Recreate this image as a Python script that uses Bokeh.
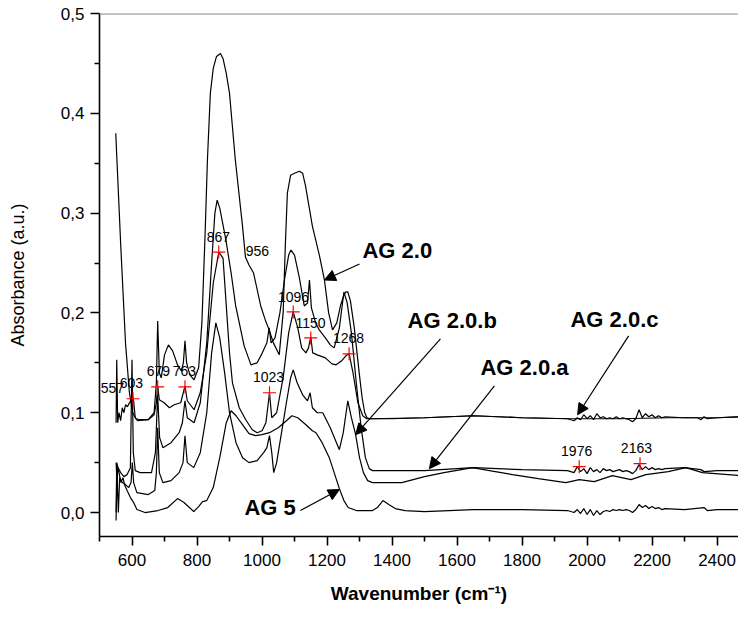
from bokeh.plotting import figure
from bokeh.models import FixedTicker, CustomJSTickFormatter, Span, Arrow, NormalHead
from bokeh.core.properties import value
from bokeh.embed import file_html
from bokeh.resources import INLINE

# ---------------- data ----------------
noise_x = [1940, 1950, 1960, 1970, 1980, 1990, 2000, 2010, 2020, 2030, 2040, 2050, 2060, 2070, 2080,
           2090, 2100, 2110, 2120, 2130, 2140, 2150, 2160, 2170, 2180, 2190, 2200, 2210, 2220, 2230, 2240]

ag20_x = [550, 565, 580, 592, 602, 612, 625, 650, 668, 675, 679, 684, 690, 700, 712, 725, 740, 752, 758,
          763, 768, 778, 791, 805, 815, 825, 832, 841, 850, 860, 872, 880, 890, 900, 918, 940, 949, 960,
          974, 996, 1010, 1022, 1035, 1053, 1065, 1072, 1078, 1088, 1100, 1115, 1125, 1134, 1155, 1177,
          1192, 1205, 1217, 1230, 1242, 1252, 1258, 1264, 1272, 1284, 1299, 1308, 1316, 1323, 1332, 1400,
          1500, 1650, 1800, 1950, 2100, 2250, 2400, 2470]
ag20_y = [0.38, 0.27, 0.17, 0.12, 0.10, 0.094, 0.093, 0.093, 0.10, 0.13, 0.192, 0.14, 0.135, 0.158, 0.168,
          0.162, 0.148, 0.142, 0.15, 0.172, 0.15, 0.138, 0.133, 0.145, 0.19, 0.28, 0.353, 0.42, 0.445,
          0.457, 0.46, 0.455, 0.44, 0.42, 0.353, 0.287, 0.256, 0.248, 0.24, 0.207, 0.193, 0.183, 0.17,
          0.158, 0.2, 0.27, 0.32, 0.338, 0.34, 0.342, 0.34, 0.327, 0.287, 0.257, 0.233, 0.2, 0.183, 0.19,
          0.208, 0.218, 0.221, 0.221, 0.212, 0.185, 0.14, 0.115, 0.1, 0.095, 0.094, 0.094, 0.095, 0.097,
          0.095, 0.094, 0.094, 0.095, 0.095, 0.096]

ag20a_x = [551, 553, 557, 565, 575, 585, 595, 600, 604, 610, 625, 660, 672, 679, 685, 695, 720, 745, 755,
           763, 770, 791, 810, 830, 845, 855, 862, 870, 889, 905, 919, 945, 966, 985, 1001, 1015, 1022,
           1028, 1040, 1055, 1070, 1082, 1089, 1100, 1115, 1130, 1140, 1146, 1152, 1165, 1176, 1195, 1210,
           1222, 1238, 1252, 1262, 1275, 1290, 1305, 1318, 1330, 1340, 1500, 1650, 1800] + noise_x + \
          [2300, 2350, 2360, 2400, 2470]
ag20a_y = [0.0, 0.05, 0.045, 0.04, 0.036, 0.038, 0.045, 0.153, 0.06, 0.042, 0.04, 0.04, 0.06, 0.118, 0.075,
           0.065, 0.07, 0.08, 0.09, 0.112, 0.095, 0.09, 0.11, 0.17, 0.25, 0.3, 0.313, 0.305, 0.273, 0.24,
           0.207, 0.167, 0.148, 0.15, 0.16, 0.17, 0.185, 0.17, 0.175, 0.2, 0.235, 0.258, 0.263, 0.258,
           0.235, 0.207, 0.21, 0.233, 0.205, 0.19, 0.183, 0.175, 0.168, 0.165, 0.185, 0.221, 0.21, 0.18,
           0.13, 0.085, 0.055, 0.044, 0.042, 0.042, 0.045, 0.043,
           0.042, 0.041, 0.040, 0.046, 0.041, 0.044, 0.039, 0.045, 0.041, 0.043, 0.040, 0.044, 0.042, 0.043,
           0.041, 0.042, 0.043, 0.041, 0.042, 0.041, 0.039, 0.042, 0.048, 0.043, 0.046, 0.043, 0.045, 0.043,
           0.044, 0.043, 0.044,
           0.045, 0.043, 0.041, 0.042, 0.042]

ag20c_x = [551, 553, 556, 560, 565, 570, 575, 580, 586, 592, 597, 601, 605, 610, 617, 650, 668, 675, 679,
           684, 699, 715, 730, 750, 763, 770, 791, 810, 830, 850, 867, 880, 900, 909, 930, 950, 970, 985,
           1000, 1012, 1023, 1030, 1045, 1065, 1082, 1096, 1110, 1122, 1135, 1143, 1150, 1156, 1170, 1195,
           1215, 1228, 1245, 1258, 1268, 1280, 1295, 1310, 1322, 1335, 1500, 1650, 1800] + noise_x + \
          [2300, 2340, 2350, 2360, 2370, 2400, 2470]
ag20c_y = [0.09, 0.153, 0.09, 0.1, 0.092, 0.105, 0.1, 0.108, 0.106, 0.11, 0.112, 0.117, 0.112, 0.095,
           0.092, 0.093, 0.098, 0.11, 0.127, 0.113, 0.11, 0.105, 0.108, 0.11, 0.127, 0.112, 0.103, 0.12,
           0.16, 0.23, 0.261, 0.255, 0.16, 0.13, 0.105, 0.093, 0.083, 0.08, 0.082, 0.09, 0.12, 0.095, 0.1,
           0.135, 0.18, 0.201, 0.185, 0.165, 0.16, 0.165, 0.176, 0.16, 0.158, 0.155, 0.149, 0.148, 0.152,
           0.157, 0.159, 0.14, 0.11, 0.097, 0.094, 0.094, 0.095, 0.097, 0.095,
           0.094, 0.093, 0.092, 0.095, 0.093, 0.098, 0.094, 0.097, 0.093, 0.099, 0.095, 0.096, 0.094, 0.095,
           0.094, 0.096, 0.094, 0.095, 0.094, 0.093, 0.091, 0.094, 0.103, 0.095, 0.099, 0.096, 0.098, 0.095,
           0.097, 0.095, 0.096,
           0.095, 0.095, 0.093, 0.096, 0.094, 0.095, 0.096]

ag20b_x = [551, 554, 558, 562, 570, 580, 590, 597, 601, 605, 615, 650, 670, 675, 679, 684, 695, 720, 745,
           757, 763, 770, 790, 810, 830, 845, 858, 870, 885, 900, 920, 940, 960, 985, 1005, 1015, 1023,
           1030, 1036, 1045, 1060, 1075, 1088, 1096, 1108, 1125, 1140, 1148, 1155, 1170, 1187, 1210, 1238,
           1250, 1264, 1275, 1288, 1300, 1312, 1325, 1340, 1430, 1500, 1560, 1648, 1700, 1771, 1850, 1935,
           1976, 2022, 2078, 2135, 2181, 2250, 2304, 2355, 2470]
ag20b_y = [-0.008, 0.04, 0.0, 0.035, 0.03, 0.028, 0.025, 0.03, 0.05, 0.03, 0.02, 0.018, 0.022, 0.04,
           0.085, 0.04, 0.03, 0.032, 0.04, 0.05, 0.077, 0.05, 0.045, 0.06, 0.1, 0.16, 0.19, 0.175, 0.14,
           0.1, 0.07, 0.055, 0.05, 0.052, 0.06, 0.065, 0.077, 0.06, 0.04, 0.05, 0.08, 0.11, 0.135, 0.143,
           0.13, 0.118, 0.112, 0.12, 0.105, 0.1, 0.1, 0.085, 0.063, 0.08, 0.112, 0.095, 0.078, 0.055, 0.04,
           0.032, 0.03, 0.03, 0.036, 0.04, 0.045, 0.042, 0.038, 0.034, 0.03, 0.033, 0.031, 0.037, 0.033,
           0.038, 0.041, 0.045, 0.04, 0.037]

ag5_x = [551, 554, 556, 560, 566, 572, 578, 585, 595, 605, 615, 640, 680, 710, 740, 760, 790, 805, 817,
         830, 850, 870, 890, 905, 920, 940, 960, 980, 1000, 1023, 1050, 1075, 1092, 1110, 1135, 1155, 1166,
         1185, 1207, 1222, 1238, 1252, 1265, 1290, 1340, 1355, 1372, 1390, 1410, 1440, 1500, 1650,
         1800] + noise_x + [2300, 2360, 2370, 2400, 2470]
ag5_y = [0.05, 0.03, 0.045, 0.04, 0.03, 0.035, 0.027, 0.022, 0.015, 0.01, 0.003, 0.0, 0.002, 0.005, 0.014,
         0.01, 0.001, 0.006, 0.011, 0.012, 0.025, 0.055, 0.09, 0.102, 0.097, 0.088, 0.079, 0.077, 0.078,
         0.08, 0.085, 0.092, 0.097, 0.095, 0.088, 0.082, 0.08, 0.07, 0.055, 0.04, 0.024, 0.012, 0.005,
         0.002, 0.002, 0.005, 0.012, 0.008, 0.004, 0.002, 0.001, 0.003, 0.003,
         0.002, 0.001, 0.000, 0.003, -0.001, 0.004, -0.002, 0.003, -0.003, 0.002, -0.002, 0.001, 0.002,
         0.001, 0.003, 0.002, 0.003, 0.002, 0.003, 0.002, 0.000, 0.003, 0.008, 0.005, 0.007, 0.004, 0.006,
         0.004, 0.005, 0.003, 0.004,
         0.003, 0.005, 0.002, 0.003, 0.003]

peak_x = [603, 679, 763, 867, 1023, 1096, 1150, 1268, 1976, 2163]
peak_y = [0.114, 0.126, 0.126, 0.261, 0.12, 0.201, 0.175, 0.159, 0.046, 0.049]

peak_labels = ["557", "603", "679", "763", "867", "956", "1023", "1096", "1150", "1268", "1976", "2163"]
peak_label_x = [540, 598, 681, 761, 866, 986, 1020, 1097, 1149, 1266, 1968, 2152]
peak_label_y = [0.125, 0.13, 0.142, 0.142, 0.276, 0.262, 0.136, 0.216, 0.19, 0.175, 0.062, 0.065]

names = ["AG 2.0", "AG 2.0.b", "AG 2.0.c", "AG 2.0.a", "AG 5"]
name_x = [1309, 1448, 1949, 1672, 946]
name_y = [0.263, 0.192, 0.193, 0.145, 0.005]
arrow_x0 = [1300, 1549, 2128, 1715, 1118]
arrow_y0 = [0.249, 0.174, 0.177, 0.127, 0.002]
arrow_x1 = [1192, 1288, 1971, 1515, 1238]
arrow_y1 = [0.233, 0.078, 0.098, 0.044, 0.023]

x_ticks = [600, 800, 1000, 1200, 1400, 1600, 1800, 2000, 2200, 2400]
x_minor = [500, 700, 900, 1100, 1300, 1500, 1700, 1900, 2100, 2300]
y_ticks = [0.0, 0.1, 0.2, 0.3, 0.4, 0.5]
y_minor = [0.05, 0.15, 0.25, 0.35, 0.45]

# ---------------- figure ----------------
FONT = "Liberation Sans"
p = figure(width=738, height=608, x_range=(500, 2466), y_range=(-0.024, 0.5),
           output_backend="svg", toolbar_location=None,
           min_border_left=99, min_border_top=13, min_border_bottom=72, min_border_right=0)
p.outline_line_color = None
p.grid.visible = False
p.background_fill_color = "white"
p.border_fill_color = "white"

for xs, ys in [(ag5_x, ag5_y), (ag20b_x, ag20b_y), (ag20a_x, ag20a_y), (ag20c_x, ag20c_y), (ag20_x, ag20_y)]:
    p.line(xs, ys, line_color="black", line_width=1.2)

p.scatter(peak_x, peak_y, marker="cross", size=13, line_color="red", line_width=1.2)

p.text(peak_label_x, peak_label_y, text=peak_labels, text_font=value(FONT), text_font_size="14px",
       text_align="center", text_baseline="middle", text_color="black")

p.text(name_x, name_y, text=names, text_font=value(FONT), text_font_size="22px", text_font_style="bold",
       text_align="left", text_baseline="middle", text_color="black")

for i in range(len(names)):
    p.add_layout(Arrow(end=NormalHead(size=11, fill_color="black", line_color="black"),
                       x_start=arrow_x0[i], y_start=arrow_y0[i], x_end=arrow_x1[i], y_end=arrow_y1[i],
                       line_color="black", line_width=1.2))

p.add_layout(Span(location=0.5, dimension="width", line_color="#888888", line_width=2))

# axes
p.xaxis.ticker = FixedTicker(ticks=x_ticks, minor_ticks=x_minor)
p.yaxis.ticker = FixedTicker(ticks=y_ticks, minor_ticks=y_minor)
p.yaxis.formatter = CustomJSTickFormatter(code="return tick.toFixed(1).replace('.', ',');")

for ax in (p.xaxis, p.yaxis):
    ax.axis_line_color = "black"
    ax.axis_line_width = 1.6
    ax.major_tick_line_color = "black"
    ax.major_tick_line_width = 1.6
    ax.minor_tick_line_color = "black"
    ax.minor_tick_line_width = 1.6
    ax.major_tick_out = 9
    ax.major_tick_in = 0
    ax.minor_tick_out = 5
    ax.minor_tick_in = 0
    ax.major_label_text_font = FONT
    ax.major_label_text_font_size = "17px"
    ax.major_label_text_color = "black"
    ax.axis_label_text_font = FONT
    ax.axis_label_text_color = "black"

p.xaxis.axis_label = "Wavenumber (cm\u207b\u00b9)"
p.xaxis.axis_label_text_font_style = "bold"
p.xaxis.axis_label_text_font_size = "19px"
p.xaxis.major_label_standoff = 8
p.xaxis.axis_label_standoff = 14

p.yaxis.axis_label = "Absorbance (a.u.)"
p.yaxis.axis_label_text_font_style = "normal"
p.yaxis.axis_label_text_font_size = "18px"
p.yaxis.major_label_standoff = 6
p.yaxis.axis_label_standoff = 30

open("out.html", "w").write(file_html(p, INLINE))
